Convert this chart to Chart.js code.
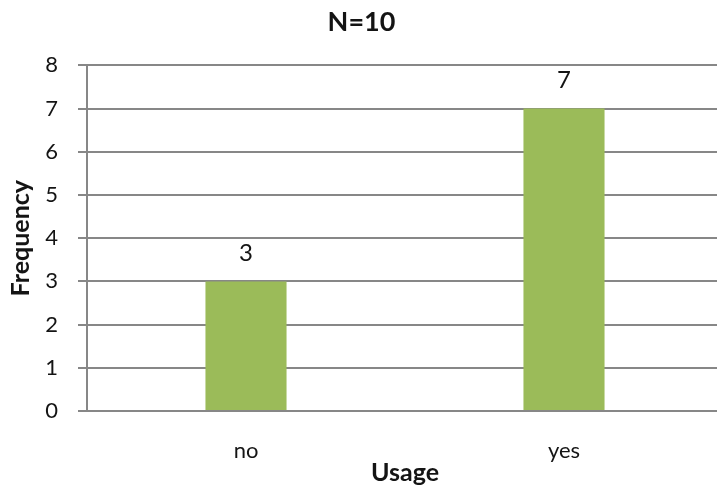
<!DOCTYPE html>
<html>
<head>
<meta charset="utf-8">
<script src="https://cdn.jsdelivr.net/npm/chart.js@4.4.0/dist/chart.umd.min.js"></script>
<style>
  html, body { margin: 0; padding: 0; background: #fff; overflow: hidden; }
  #wrap { width: 734px; height: 488px; position: relative; }
</style>
</head>
<body>
<div id="wrap"><canvas id="c" width="734" height="488"></canvas></div>
<script>
const categories = ['no', 'yes'];
const frequency = [3, 7];
const yTicks = [0, 1, 2, 3, 4, 5, 6, 7, 8];

const FONT = "'Lato', 'Open Sans', 'Liberation Sans', sans-serif";
const GRID = '#878787';
const TEXT = '#141414';

// value labels drawn above each bar
const valueLabels = {
  id: 'valueLabels',
  afterDatasetsDraw(chart) {
    const ctx = chart.ctx;
    const meta = chart.getDatasetMeta(0);
    ctx.save();
    ctx.font = '24px ' + FONT;
    ctx.fillStyle = TEXT;
    ctx.textAlign = 'center';
    ctx.textBaseline = 'middle';
    meta.data.forEach((bar, i) => {
      ctx.fillText(String(frequency[i]), bar.x, bar.y - 28);
    });
    ctx.restore();
  }
};

new Chart(document.getElementById('c'), {
  type: 'bar',
  data: {
    labels: categories,
    datasets: [{
      data: frequency,
      backgroundColor: '#9BBB59',
      borderWidth: 0,
      categoryPercentage: 1,
      barPercentage: 0.255
    }]
  },
  options: {
    responsive: false,
    animation: false,
    layout: { padding: { top: 0, right: 11, bottom: 0, left: 0 } },
    plugins: {
      legend: { display: false },
      tooltip: { enabled: false },
      title: {
        display: true,
        text: 'N=10',
        color: TEXT,
        font: { family: FONT, size: 27, weight: 'bold' },
        padding: { top: 6, bottom: 27 }
      }
    },
    scales: {
      x: {
        grid: { display: false, drawTicks: false },
        border: { display: true, color: GRID, width: 2 },
        ticks: { color: TEXT, font: { family: FONT, size: 22 }, padding: 27 },
        title: {
          display: true,
          text: 'Usage',
          color: TEXT,
          font: { family: FONT, size: 25, weight: 'bold' },
          padding: { top: 0, bottom: 0 }
        },
        afterFit(scale) { scale.height = 77; }
      },
      y: {
        min: 0,
        max: 8,
        afterBuildTicks(scale) { scale.ticks = yTicks.map(v => ({ value: v })); },
        grid: { color: GRID, lineWidth: 2, tickLength: 9, drawTicks: true },
        border: { display: true, color: GRID, width: 2 },
        ticks: { color: TEXT, font: { family: FONT, size: 22 }, padding: 20 },
        title: {
          display: true,
          text: 'Frequency',
          color: TEXT,
          font: { family: FONT, size: 25, weight: 'bold' },
          padding: { top: 6, bottom: 0 }
        },
        afterFit(scale) { scale.width = 87; }
      }
    }
  },
  plugins: [valueLabels]
});
</script>
</body>
</html>
